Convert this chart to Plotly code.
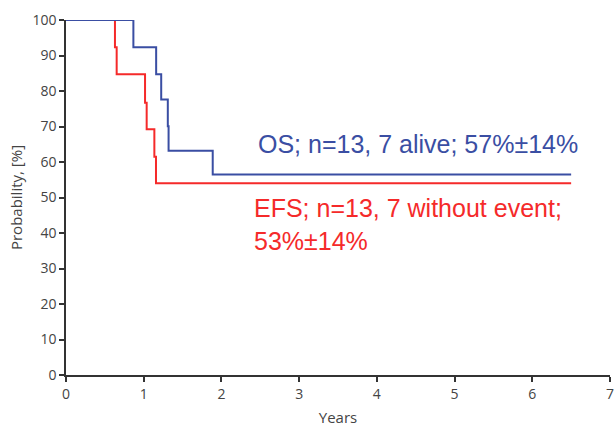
import plotly.graph_objects as go

# Kaplan-Meier step data (years, probability %)
os_times = [0, 0.867, 1.16, 1.225, 1.31, 1.32, 1.888, 6.5]
os_probs = [100, 92.3, 84.7, 77.6, 70.1, 63.2, 56.5, 56.5]

efs_times = [0, 0.63, 0.652, 1.017, 1.038, 1.137, 1.158, 6.5]
efs_probs = [100, 92.3, 84.7, 76.7, 69.2, 61.5, 54.0, 54.0]

x_ticks = [0, 1, 2, 3, 4, 5, 6, 7]
y_ticks = [0, 10, 20, 30, 40, 50, 60, 70, 80, 90, 100]

os_label = "OS; n=13, 7 alive; 57%±14%"
efs_label = "EFS; n=13, 7 without event;<br>53%±14%"

blue = "#3a4ea3"
red = "#f52a2a"

fig = go.Figure()
fig.add_trace(go.Scatter(x=efs_times, y=efs_probs, mode="lines",
                         line=dict(color=red, width=2, shape="hv"), showlegend=False))
fig.add_trace(go.Scatter(x=os_times, y=os_probs, mode="lines",
                         line=dict(color=blue, width=2, shape="hv"), showlegend=False))

fig.add_annotation(x=2.45, y=65.0, xref="x", yref="y", text=os_label, showarrow=False,
                   xanchor="left", yanchor="middle",
                   font=dict(family="Liberation Sans, Arial", size=25, color=blue))
fig.add_annotation(x=2.39, y=42.5, xref="x", yref="y", text=efs_label, showarrow=False,
                   xanchor="left", yanchor="middle", align="left",
                   font=dict(family="Liberation Sans, Arial", size=25, color=red))

tick_font = dict(family="Open Sans", size=14, color="#444")
title_font = dict(family="Open Sans", size=15, color="#444")
fig.update_xaxes(range=[0, 7], tickvals=x_ticks, ticks="outside", ticklen=5, tickwidth=1.5,
                 tickcolor="#333", showline=True, linecolor="#333", linewidth=1.5,
                 showgrid=False, zeroline=False, tickfont=tick_font, automargin=False,
                 title=dict(text="Years", font=title_font, standoff=14))
fig.update_yaxes(range=[0, 100], tickvals=y_ticks, ticks="outside", ticklen=5, tickwidth=1.5,
                 tickcolor="#333", showline=True, linecolor="#333", linewidth=1.5,
                 showgrid=False, zeroline=False, tickfont=tick_font, automargin=False,
                 title=dict(text="Probability, [%]", font=title_font, standoff=6))

fig.update_layout(width=616, height=427, margin=dict(l=66, r=6, t=20, b=52),
                  plot_bgcolor="white", paper_bgcolor="white")

fig.write_html("out.html")
